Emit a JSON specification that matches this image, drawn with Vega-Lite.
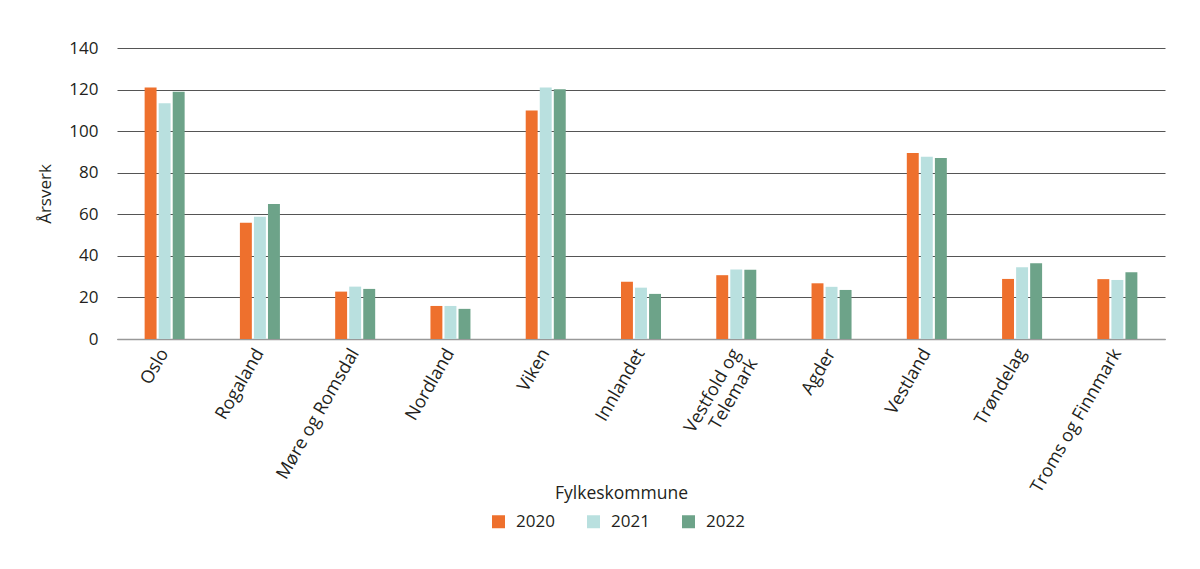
{
  "$schema": "https://vega.github.io/schema/vega-lite/v6.json",
  "autosize": "none",
  "width": 1048,
  "height": 291,
  "padding": {"left": 117, "top": 48, "right": 35, "bottom": 230},
  "background": "white",
  "config": {
    "font": "Open Sans",
    "view": {"stroke": null}
  },
  "data": {
    "values": [
      {"fylke": "Oslo", "year": "2020", "value": 121.0},
      {"fylke": "Oslo", "year": "2021", "value": 113.4},
      {"fylke": "Oslo", "year": "2022", "value": 118.9},
      {"fylke": "Rogaland", "year": "2020", "value": 55.9},
      {"fylke": "Rogaland", "year": "2021", "value": 58.8},
      {"fylke": "Rogaland", "year": "2022", "value": 64.9},
      {"fylke": "Møre og Romsdal", "year": "2020", "value": 22.8},
      {"fylke": "Møre og Romsdal", "year": "2021", "value": 25.2},
      {"fylke": "Møre og Romsdal", "year": "2022", "value": 24.1},
      {"fylke": "Nordland", "year": "2020", "value": 15.9},
      {"fylke": "Nordland", "year": "2021", "value": 15.9},
      {"fylke": "Nordland", "year": "2022", "value": 14.5},
      {"fylke": "Viken", "year": "2020", "value": 109.9},
      {"fylke": "Viken", "year": "2021", "value": 121.0},
      {"fylke": "Viken", "year": "2022", "value": 120.2},
      {"fylke": "Innlandet", "year": "2020", "value": 27.5},
      {"fylke": "Innlandet", "year": "2021", "value": 24.7},
      {"fylke": "Innlandet", "year": "2022", "value": 21.7},
      {"fylke": "Vestfold og Telemark", "year": "2020", "value": 30.7},
      {"fylke": "Vestfold og Telemark", "year": "2021", "value": 33.4},
      {"fylke": "Vestfold og Telemark", "year": "2022", "value": 33.3},
      {"fylke": "Agder", "year": "2020", "value": 26.8},
      {"fylke": "Agder", "year": "2021", "value": 25.1},
      {"fylke": "Agder", "year": "2022", "value": 23.6},
      {"fylke": "Vestland", "year": "2020", "value": 89.5},
      {"fylke": "Vestland", "year": "2021", "value": 87.7},
      {"fylke": "Vestland", "year": "2022", "value": 87.1},
      {"fylke": "Trøndelag", "year": "2020", "value": 28.9},
      {"fylke": "Trøndelag", "year": "2021", "value": 34.5},
      {"fylke": "Trøndelag", "year": "2022", "value": 36.5},
      {"fylke": "Troms og Finnmark", "year": "2020", "value": 28.8},
      {"fylke": "Troms og Finnmark", "year": "2021", "value": 28.4},
      {"fylke": "Troms og Finnmark", "year": "2022", "value": 32.1}
    ]
  },
  "mark": {"type": "bar"},
  "encoding": {
    "x": {
      "field": "fylke",
      "type": "nominal",
      "sort": null,
      "scale": {"paddingInner": 0.58, "paddingOuter": 0.29},
      "axis": {
        "title": "Fylkeskommune",
        "titleFont": "Open Sans",
        "titleFontSize": 17.5,
        "titleFontWeight": "normal",
        "titleColor": "#231f20",
        "titleX": 504,
        "titleY": 154,
        "titleAlign": "center",
        "titleBaseline": "middle",
        "labelAngle": -60,
        "labelFontSize": 18,
        "labelColor": "#231f20",
        "labelPadding": 11,
        "labelLimit": 300,
        "labelExpr": "datum.label == 'Vestfold og Telemark' ? ['Vestfold og', 'Telemark'] : datum.label",
        "ticks": false,
        "domain": true,
        "domainColor": "#999999",
        "domainWidth": 1.5,
        "grid": false
      }
    },
    "xOffset": {
      "field": "year",
      "type": "nominal",
      "scale": {"paddingInner": 0.15}
    },
    "y": {
      "field": "value",
      "type": "quantitative",
      "scale": {"domain": [0, 140]},
      "axis": {
        "title": "Årsverk",
        "titleFontSize": 17,
        "titleFontWeight": "normal",
        "titleColor": "#231f20",
        "titlePadding": 14,
        "values": [0, 20, 40, 60, 80, 100, 120, 140],
        "labelFontSize": 17,
        "labelColor": "#231f20",
        "labelPadding": 19,
        "ticks": false,
        "domain": false,
        "grid": true,
        "gridColor": "#555555",
        "gridWidth": 1
      }
    },
    "color": {
      "field": "year",
      "type": "nominal",
      "scale": {"domain": ["2020", "2021", "2022"], "range": ["#EE702D", "#B9E0DF", "#6DA389"]},
      "legend": {
        "title": null,
        "orient": "none",
        "direction": "horizontal",
        "legendX": 373,
        "legendY": 465,
        "symbolType": "square",
        "symbolSize": 169,
        "symbolStrokeWidth": 0,
        "labelFontSize": 17,
        "labelColor": "#231f20",
        "labelOffset": 9,
        "columnPadding": 30
      }
    }
  }
}
